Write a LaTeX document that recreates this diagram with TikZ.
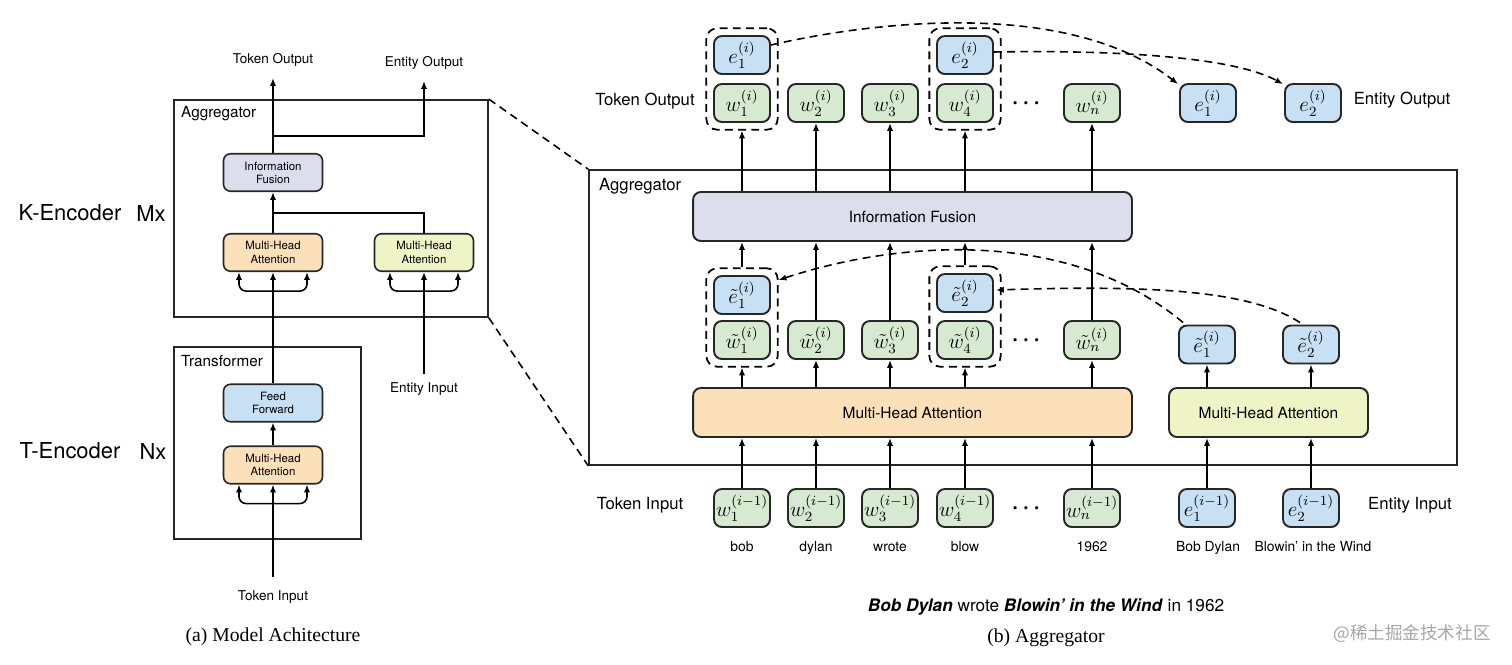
\RequirePackage{fix-cm}
\documentclass[tikz,border=0pt]{standalone}
\usepackage{amsmath, amssymb}
\usepackage[no-math]{fontspec}
\setmainfont{TeX Gyre Heros}
\newfontfamily\capfont{Liberation Serif}
\newfontfamily\cjk{Noto Sans CJK SC}
\usepackage{tikz}
\usetikzlibrary{arrows.meta,calc,fit,positioning}
\usepackage{xcolor}
\definecolor{wgreen}{HTML}{D5EAD0}
\definecolor{eblue}{HTML}{C8E0F4}
\definecolor{fuse}{HTML}{DCDEEE}
\definecolor{mhaor}{HTML}{FCE0BA}
\definecolor{mhaye}{HTML}{EEF4C6}
\tikzstyle{box}=[draw=black!85, line width=1.1pt, rounded corners=4.5pt, inner sep=0pt]
\tikzstyle{tok}=[box, fill=wgreen, minimum width=1.12cm, minimum height=0.76cm, font=\fontsize{12}{14}\selectfont]
\tikzstyle{ent}=[tok, fill=eblue]
\tikzstyle{lbox}=[box, line width=0.9pt, rounded corners=4pt, minimum width=1.98cm, minimum height=0.75cm, align=center, font=\fontsize{6.5}{7.5}\selectfont]
\tikzstyle{bbox}=[box, minimum height=0.98cm, font=\fontsize{8.8}{10}\selectfont]
\tikzstyle{dsh}=[dash pattern=on 4.5pt off 3pt]
\tikzstyle{grp}=[draw, dsh, line width=1pt, rounded corners=6pt, inner sep=3.8pt]
\tikzstyle{panel}=[draw=black!85, line width=1pt, inner sep=0pt]
\tikzstyle{arr}=[-{Latex[length=4.5pt,width=3.6pt]}, line width=0.9pt]
\tikzstyle{lbl}=[font=\fontsize{9.5}{11}\selectfont]
\tikzstyle{slbl}=[font=\fontsize{8.7}{10}\selectfont]
\tikzstyle{tlbl}=[font=\fontsize{7.7}{9}\selectfont]
\tikzstyle{wlbl}=[anchor=base, font=\fontsize{7.9}{9}\selectfont]
\tikzstyle{enc}=[font=\fontsize{12.5}{14}\selectfont]
\tikzstyle{captxt}=[font=\capfont\fontsize{11.2}{13}\selectfont]
\tikzstyle{ellip}=[font=\fontsize{12}{14}\selectfont\boldmath]
\newcommand{\fork}[1]{
 \draw[arr, rounded corners=4pt] ($(#1.south)+(0,19)$) -| ($(#1.south)+(-34,0)$);
 \draw[arr, rounded corners=4pt] ($(#1.south)+(0,19)$) -| ($(#1.south)+(34,0)$);
}
\begin{document}
\begin{tikzpicture}[x=0.02cm, y=-0.02cm]
 \useasboundingbox (0,0) rectangle (1512,664);
%
 % (a) model architecture
 \node[panel, minimum width=6.28cm, minimum height=4.34cm] (aggL) at (331,208.5) {};
 \node[slbl, anchor=west] (aggLt) at (175,114) {Aggregator};
 \node[lbox, fill=fuse] (fusL) at (273,172.5) {Information\\Fusion};
 \node[lbox, fill=mhaor] (mhaL) at (273,252.5) {Multi-Head\\Attention};
 \node[lbox, fill=mhaye] (mheL) at (424,252.5) {Multi-Head\\Attention};
 \node[tlbl] (tokoutL) at (273,60) {Token Output};
 \node[tlbl] (entoutL) at (424,63) {Entity Output};
 \coordinate (jtop) at (273,136);
 \coordinate (jbot) at (273,213);
 \draw[arr, shorten >=3pt] (fusL.north) -- (tokoutL.south);
 \draw[arr, shorten >=3pt] (jtop) -| (entoutL.south);
 \draw[arr] (mhaL.north) -- (fusL.south);
 \draw[line width=0.9pt] (mheL.north) |- (jbot);
 \fork{mhaL}
 \fork{mheL}
%
 \node[panel, minimum width=3.74cm, minimum height=3.84cm] (trL) at (267.5,443) {};
 \node[slbl, anchor=west] (trLt) at (175,361) {Transformer};
 \node[lbox, fill=eblue] (ffL) at (273,403) {Feed\\Forward};
 \node[lbox, fill=mhaor] (mhaT) at (273,465) {Multi-Head\\Attention};
 \draw[arr] (mhaT.north) -- (ffL.south);
 \draw[arr] (ffL.north) -- (mhaL.south);
 \fork{mhaT}
 \node[tlbl] (tokinL) at (273,597) {Token Input};
 \node[tlbl] (entinL) at (424,389) {Entity Input};
 \draw[arr, shorten <=4pt] (tokinL.north) -- (mhaT.south);
 \draw[arr, shorten <=1.5pt] (entinL.north) -- (mheL.south);
%
 \node[enc] (kenc) at (70,213) {K-Encoder};
 \node[enc] (kmx) at (151,213) {Mx};
 \node[enc] (tenc) at (70,451) {T-Encoder};
 \node[enc] (tnx) at (153,451) {Nx};
 \node[captxt] (capa) at (273,637) {(a) Model Achitecture};
%
 % (b) aggregator
 \node[panel, minimum width=17.36cm, minimum height=5.9cm] (aggR) at (1023,317.5) {};
 \draw[dsh, line width=0.9pt] (aggL.north east) -- (aggR.north west);
 \draw[dsh, line width=0.9pt] (aggL.south east) -- (aggR.south west);
 \node[lbl, anchor=west] (aggRt) at (593,186) {Aggregator};
 \node[bbox, fill=fuse, minimum width=8.78cm] (fusR) at (912.5,216.5) {Information Fusion};
 \node[bbox, fill=mhaor, minimum width=8.78cm] (mhaR) at (912.5,412.5) {Multi-Head Attention};
 \node[bbox, fill=mhaye, minimum width=3.98cm] (mheR) at (1268.5,412.5) {Multi-Head Attention};
%
 % output row
 \node[tok] (wo1) at (742,103) {$w_1^{(i)}$};
 \node[tok] (wo2) at (816,103) {$w_2^{(i)}$};
 \node[tok] (wo3) at (890,103) {$w_3^{(i)}$};
 \node[tok] (wo4) at (965,103) {$w_4^{(i)}$};
 \node[tok] (won) at (1092,103) {$w_n^{(i)}$};
 \node[ent] (eo1) at (742,55) {$e_1^{(i)}$};
 \node[ent] (eo2) at (965,55) {$e_2^{(i)}$};
 \node[ent] (eeo1) at (1208,103) {$e_1^{(i)}$};
 \node[ent] (eeo2) at (1313,103) {$e_2^{(i)}$};
 \node[grp, fit=(eo1)(wo1)] (go1) {};
 \node[grp, fit=(eo2)(wo4)] (go2) {};
 \node[ellip] (dto) at (1028,103) {$\cdots$};
 \node[lbl] (tokoutR) at (645,101) {Token Output};
 \node[lbl] (entoutR) at (1402,100) {Entity Output};
%
 % middle row
 \node[tok] (wm1) at (742,340) {$\tilde{w}_1^{(i)}$};
 \node[tok] (wm2) at (816,340) {$\tilde{w}_2^{(i)}$};
 \node[tok] (wm3) at (890,340) {$\tilde{w}_3^{(i)}$};
 \node[tok] (wm4) at (965,340) {$\tilde{w}_4^{(i)}$};
 \node[tok] (wmn) at (1092,340) {$\tilde{w}_n^{(i)}$};
 \node[ent] (em1) at (742,295) {$\tilde{e}_1^{(i)}$};
 \node[ent] (em2) at (965,293) {$\tilde{e}_2^{(i)}$};
 \node[grp, fit=(em1)(wm1)] (gm1) {};
 \node[grp, fit=(em2)(wm4)] (gm2) {};
 \node[ellip] (dtm) at (1028,340) {$\cdots$};
 \node[ent] (et1) at (1207,344.5) {$\tilde{e}_1^{(i)}$};
 \node[ent] (et2) at (1311,344.5) {$\tilde{e}_2^{(i)}$};
%
 % input row
 \node[tok] (wi1) at (742,508) {$w_1^{(i-1)}$};
 \node[tok] (wi2) at (816,508) {$w_2^{(i-1)}$};
 \node[tok] (wi3) at (890,508) {$w_3^{(i-1)}$};
 \node[tok] (wi4) at (965,508) {$w_4^{(i-1)}$};
 \node[tok] (win) at (1092,508) {$w_n^{(i-1)}$};
 \node[ent] (ei1) at (1207,508) {$e_1^{(i-1)}$};
 \node[ent] (ei2) at (1311,508) {$e_2^{(i-1)}$};
 \node[ellip] (dti) at (1028,508) {$\cdots$};
 \node[lbl] (tokinR) at (640,505) {Token Input};
 \node[lbl] (entinR) at (1410,505) {Entity Input};
 \node[wlbl] (wd1) at (742,551) {bob};
 \node[wlbl] (wd2) at (816,551) {dylan};
 \node[wlbl] (wd3) at (890,551) {wrote};
 \node[wlbl] (wd4) at (965,551) {blow};
 \node[wlbl] (wdn) at (1092,551) {1962};
 \node[wlbl] (wde1) at (1208,551) {Bob Dylan};
 \node[wlbl] (wde2) at (1313,551) {Blowin' in the Wind};
%
 % arrows
 \draw[arr] (fusR.north -| go1.south) -- (go1.south);
 \draw[arr] (fusR.north -| wo2.south) -- (wo2.south);
 \draw[arr] (fusR.north -| wo3.south) -- (wo3.south);
 \draw[arr] (fusR.north -| go2.south) -- (go2.south);
 \draw[arr] (fusR.north -| won.south) -- (won.south);
 \draw[arr] (gm1.north) -- (gm1.north |- fusR.south);
 \draw[arr] (wm2.north) -- (wm2.north |- fusR.south);
 \draw[arr] (wm3.north) -- (wm3.north |- fusR.south);
 \draw[arr] (gm2.north) -- (gm2.north |- fusR.south);
 \draw[arr] (wmn.north) -- (wmn.north |- fusR.south);
 \draw[arr] (mhaR.north -| gm1.south) -- (gm1.south);
 \draw[arr] (mhaR.north -| wm2.south) -- (wm2.south);
 \draw[arr] (mhaR.north -| wm3.south) -- (wm3.south);
 \draw[arr] (mhaR.north -| gm2.south) -- (gm2.south);
 \draw[arr] (mhaR.north -| wmn.south) -- (wmn.south);
 \draw[arr] (mheR.north -| et1.south) -- (et1.south);
 \draw[arr] (mheR.north -| et2.south) -- (et2.south);
 \draw[arr] (wi1.north) -- (wi1.north |- mhaR.south);
 \draw[arr] (wi2.north) -- (wi2.north |- mhaR.south);
 \draw[arr] (wi3.north) -- (wi3.north |- mhaR.south);
 \draw[arr] (wi4.north) -- (wi4.north |- mhaR.south);
 \draw[arr] (win.north) -- (win.north |- mhaR.south);
 \draw[arr] (ei1.north) -- (ei1.north |- mheR.south);
 \draw[arr] (ei2.north) -- (ei2.north |- mheR.south);
%
 % entity links
 \draw[arr, dsh] ($(eo1.east)+(0,-10)$) .. controls (880,20) and (1070,0) .. ($(eeo1.north west)+(-1,1)$);
 \draw[arr, dsh] ($(eo2.east)+(0,-3)$) .. controls (1100,50) and (1230,55) .. ($(eeo2.north west)+(-1,1)$);
 \draw[arr, dsh] ($(et1.north west)+(5,-2)$) .. controls (1070,228) and (900,240) .. ($(gm1.east |- em1.north)+(0,5)$);
 \draw[arr, dsh] ($(et2.north)+(-11,-2)$) .. controls (1250,290) and (1150,285) .. ($(em2.east)+(2,-3)$);
%
 \node[font=\fontsize{9.8}{11}\selectfont] (sent) at (1046,607) {\textbf{\textit{Bob Dylan}} wrote \textbf{\textit{Blowin' in the Wind}} in 1962};
 \node[captxt] (capb) at (1046,638) {(b) Aggregator};
 \node[font=\cjk\fontsize{10}{12}\selectfont, text=black!35] (wmark) at (1412,634) {@稀土掘金技术社区};
\end{tikzpicture}
\end{document}
